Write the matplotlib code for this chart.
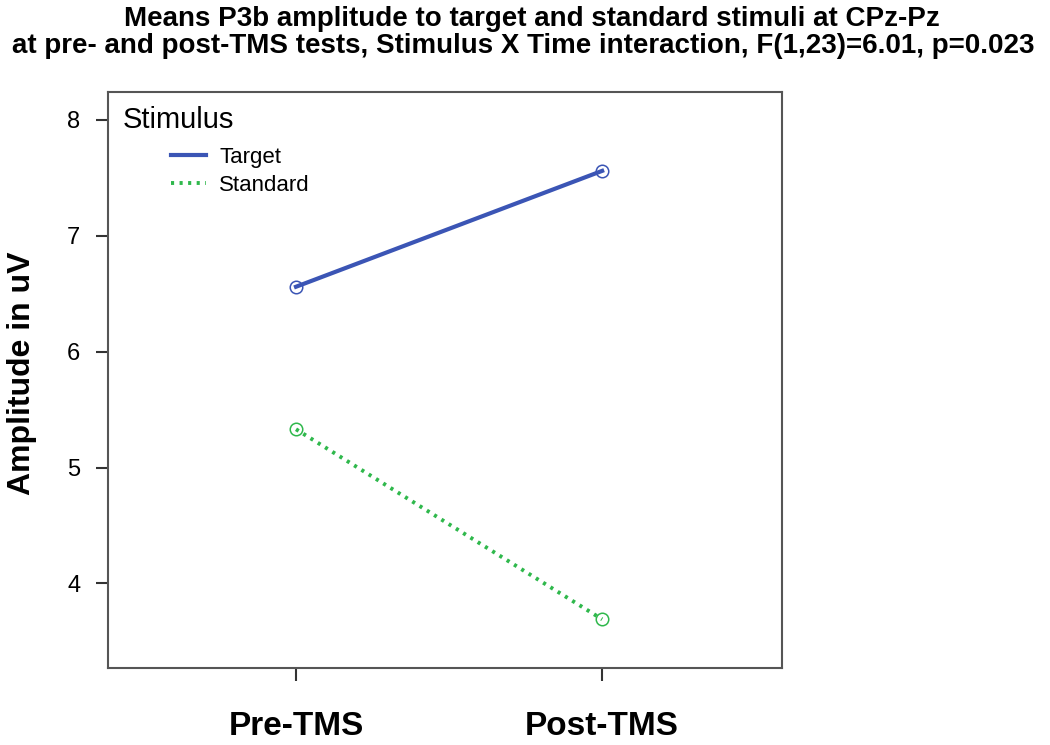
import matplotlib.pyplot as plt
from matplotlib.lines import Line2D

# data
times = ['Pre-TMS', 'Post-TMS']
target = [6.56, 7.56]
standard = [5.33, 3.69]
yticks = [4, 5, 6, 7, 8]

blue = '#3b55b5'
green = '#2fb84c'

plt.rcParams['font.family'] = ['Liberation Sans', 'DejaVu Sans']

fig = plt.figure(figsize=(10.5, 7.45), dpi=100)
ax = fig.add_axes([0.1029, 0.1034, 0.642, 0.773])

x = [1, 2]
ax.plot(x, target, color=blue, lw=3, marker='o', ms=9, mfc='none',
        mec=blue, mew=1.1)
ax.plot(x, standard, color=green, lw=2.8, ls=(0, (0.8, 1.4)), marker='o', ms=9,
        mfc='none', mec=green, mew=1.1)

ax.set_xlim(0.386, 2.588)
ax.set_ylim(3.27, 8.24)
ax.set_xticks(x)
ax.set_xticklabels(times, fontsize=24, fontweight='bold')
ax.set_yticks(yticks)
ax.set_yticklabels([str(v) for v in yticks], fontsize=17)
ax.tick_params(axis='both', direction='out', length=9, width=1.5, color='#333333')
ax.tick_params(axis='x', pad=22)
ax.tick_params(axis='y', pad=11)
for s in ax.spines.values():
    s.set_color('#555555')
    s.set_linewidth(1.5)

ax.set_ylabel('Amplitude in uV', fontsize=23, fontweight='bold')
ax.yaxis.set_label_coords(-0.105, 0.512)

# legend: title at the corner, entries indented
ax.text(0.022, 0.975, 'Stimulus', transform=ax.transAxes, fontsize=21,
        ha='left', va='top')
handles = [Line2D([], [], color=blue, lw=3),
           Line2D([], [], color=green, lw=2.8, ls=(0, (0.8, 1.4)))]
ax.legend(handles, ['Target', 'Standard'], loc='upper left', frameon=False,
          fontsize=16, handlelength=1.6, handletextpad=0.6, labelspacing=0.3,
          bbox_to_anchor=(0.063, 0.939))

fig.text(0.507, 0.965, 'Means P3b amplitude to target and standard stimuli at CPz-Pz',
         ha='center', va='baseline', fontsize=20, fontweight='bold')
fig.text(0.498, 0.929, 'at pre- and post-TMS tests, Stimulus X Time interaction, F(1,23)=6.01, p=0.023',
         ha='center', va='baseline', fontsize=20, fontweight='bold')

fig.savefig('out.png', dpi=100)
